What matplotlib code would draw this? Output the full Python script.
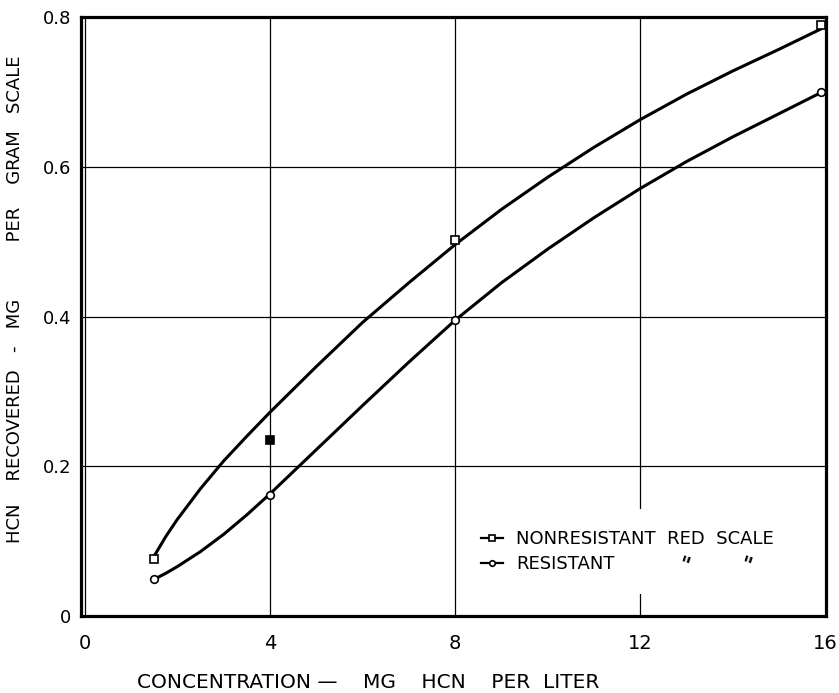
import matplotlib
matplotlib.use("Agg")
import matplotlib.pyplot as plt
from matplotlib.lines import Line2D
from matplotlib.legend_handler import HandlerLine2D

conc = [1.5, 4, 8, 15.9]
nonres = [0.076, 0.235, 0.502, 0.789]
nonres_filled = [False, True, False, False]
res = [0.049, 0.162, 0.395, 0.700]

# curvas trazadas a mano, leidas punto a punto
curve_x = [1.5, 1.75, 2, 2.5, 3, 3.5, 4, 5, 6, 7, 8, 9, 10, 11, 12, 13, 14, 15, 15.9]
curve_nonres = [0.080, 0.106, 0.129, 0.170, 0.207, 0.240, 0.272, 0.333, 0.392, 0.445,
                0.496, 0.543, 0.586, 0.626, 0.663, 0.697, 0.728, 0.757, 0.784]
curve_res = [0.049, 0.057, 0.066, 0.086, 0.109, 0.135, 0.163, 0.222, 0.281, 0.339,
             0.395, 0.445, 0.490, 0.532, 0.571, 0.607, 0.640, 0.671, 0.699]

xticks = [0, 4, 8, 12, 16]
xticklabels = ["0", "4", "8", "12", "16"]
yticks = [0, 0.2, 0.4, 0.6, 0.8]
yticklabels = ["0", "0.2", "0.4", "0.6", "0.8"]


class MarkerLeft(HandlerLine2D):
    # marcador a la izquierda de la linea, como en la leyenda original
    def get_xdata(self, legend, xdescent, ydescent, width, height, fontsize):
        return [-xdescent, -xdescent + width], [-xdescent]


plt.rcParams['font.family'] = ['DejaVu Sans']
fig = plt.figure(figsize=(8.39, 6.93), dpi=100)
ax = fig.add_axes([81 / 839, 77 / 693, 744.5 / 839, 599 / 693])

ax.plot(curve_x, curve_nonres, color='black', lw=2.2, clip_on=False, zorder=3)
ax.plot(curve_x, curve_res, color='black', lw=2.2, clip_on=False, zorder=3)

for x, y, f in zip(conc, nonres, nonres_filled):
    ax.plot(x, y, marker='s', ms=5.5, mew=1.2, mec='black',
            mfc='black' if f else 'white', ls='none', clip_on=False, zorder=4)
ax.plot(conc, res, marker='o', ms=5.5, mew=1.2, mec='black', mfc='white',
        ls='none', clip_on=False, zorder=4)

ax.set_xlim(-0.08, 16)
ax.set_ylim(0, 0.8)
ax.set_xticks(xticks)
ax.set_xticklabels(xticklabels, fontsize=14)
ax.set_yticks(yticks)
ax.set_yticklabels(yticklabels, fontsize=13)
ax.tick_params(length=0)
ax.tick_params(axis='x', pad=13)
ax.tick_params(axis='y', pad=7)
ax.grid(True, color='black', lw=0.9)
ax.set_axisbelow(True)
for s in ax.spines.values():
    s.set_linewidth(2.3)

ax.set_xlabel("CONCENTRATION \u2014    MG    HCN    PER  LITER", fontsize=14.5)
ax.xaxis.set_label_coords((368 - 81) / 744.5, -0.095)
ax.set_ylabel("HCN    RECOVERED   -   MG          PER    GRAM   SCALE", fontsize=13)
ax.yaxis.set_label_coords(-0.077, 0.529)

h1 = Line2D([], [], color='black', lw=1.6, marker='s', ms=4, mfc='white', mec='black', mew=1.2)
h2 = Line2D([], [], color='black', lw=1.6, marker='o', ms=4, mfc='white', mec='black', mew=1.2)
leg = ax.legend([h1, h2], ["NONRESISTANT  RED  SCALE", "RESISTANT"],
                loc='lower left', bbox_to_anchor=(0.51, 0.037), borderaxespad=0,
                handler_map={Line2D: MarkerLeft()}, handlelength=1.2, handletextpad=0.7,
                fontsize=13, frameon=True, fancybox=False, borderpad=1.15,
                labelspacing=0.4)
leg.get_frame().set_facecolor('white')
leg.get_frame().set_edgecolor('none')
leg.get_frame().set_alpha(1)
leg.set_zorder(5)

# comillas de "idem" bajo RED y SCALE
for xd in [684, 746]:
    ax.text((xd - 81) / 744.5, (616 - 566) / 599, '"', fontsize=15,
            fontweight='bold', rotation=-18,
            ha='center', va='center', transform=ax.transAxes, zorder=6)

fig.savefig("out.png", dpi=100)
